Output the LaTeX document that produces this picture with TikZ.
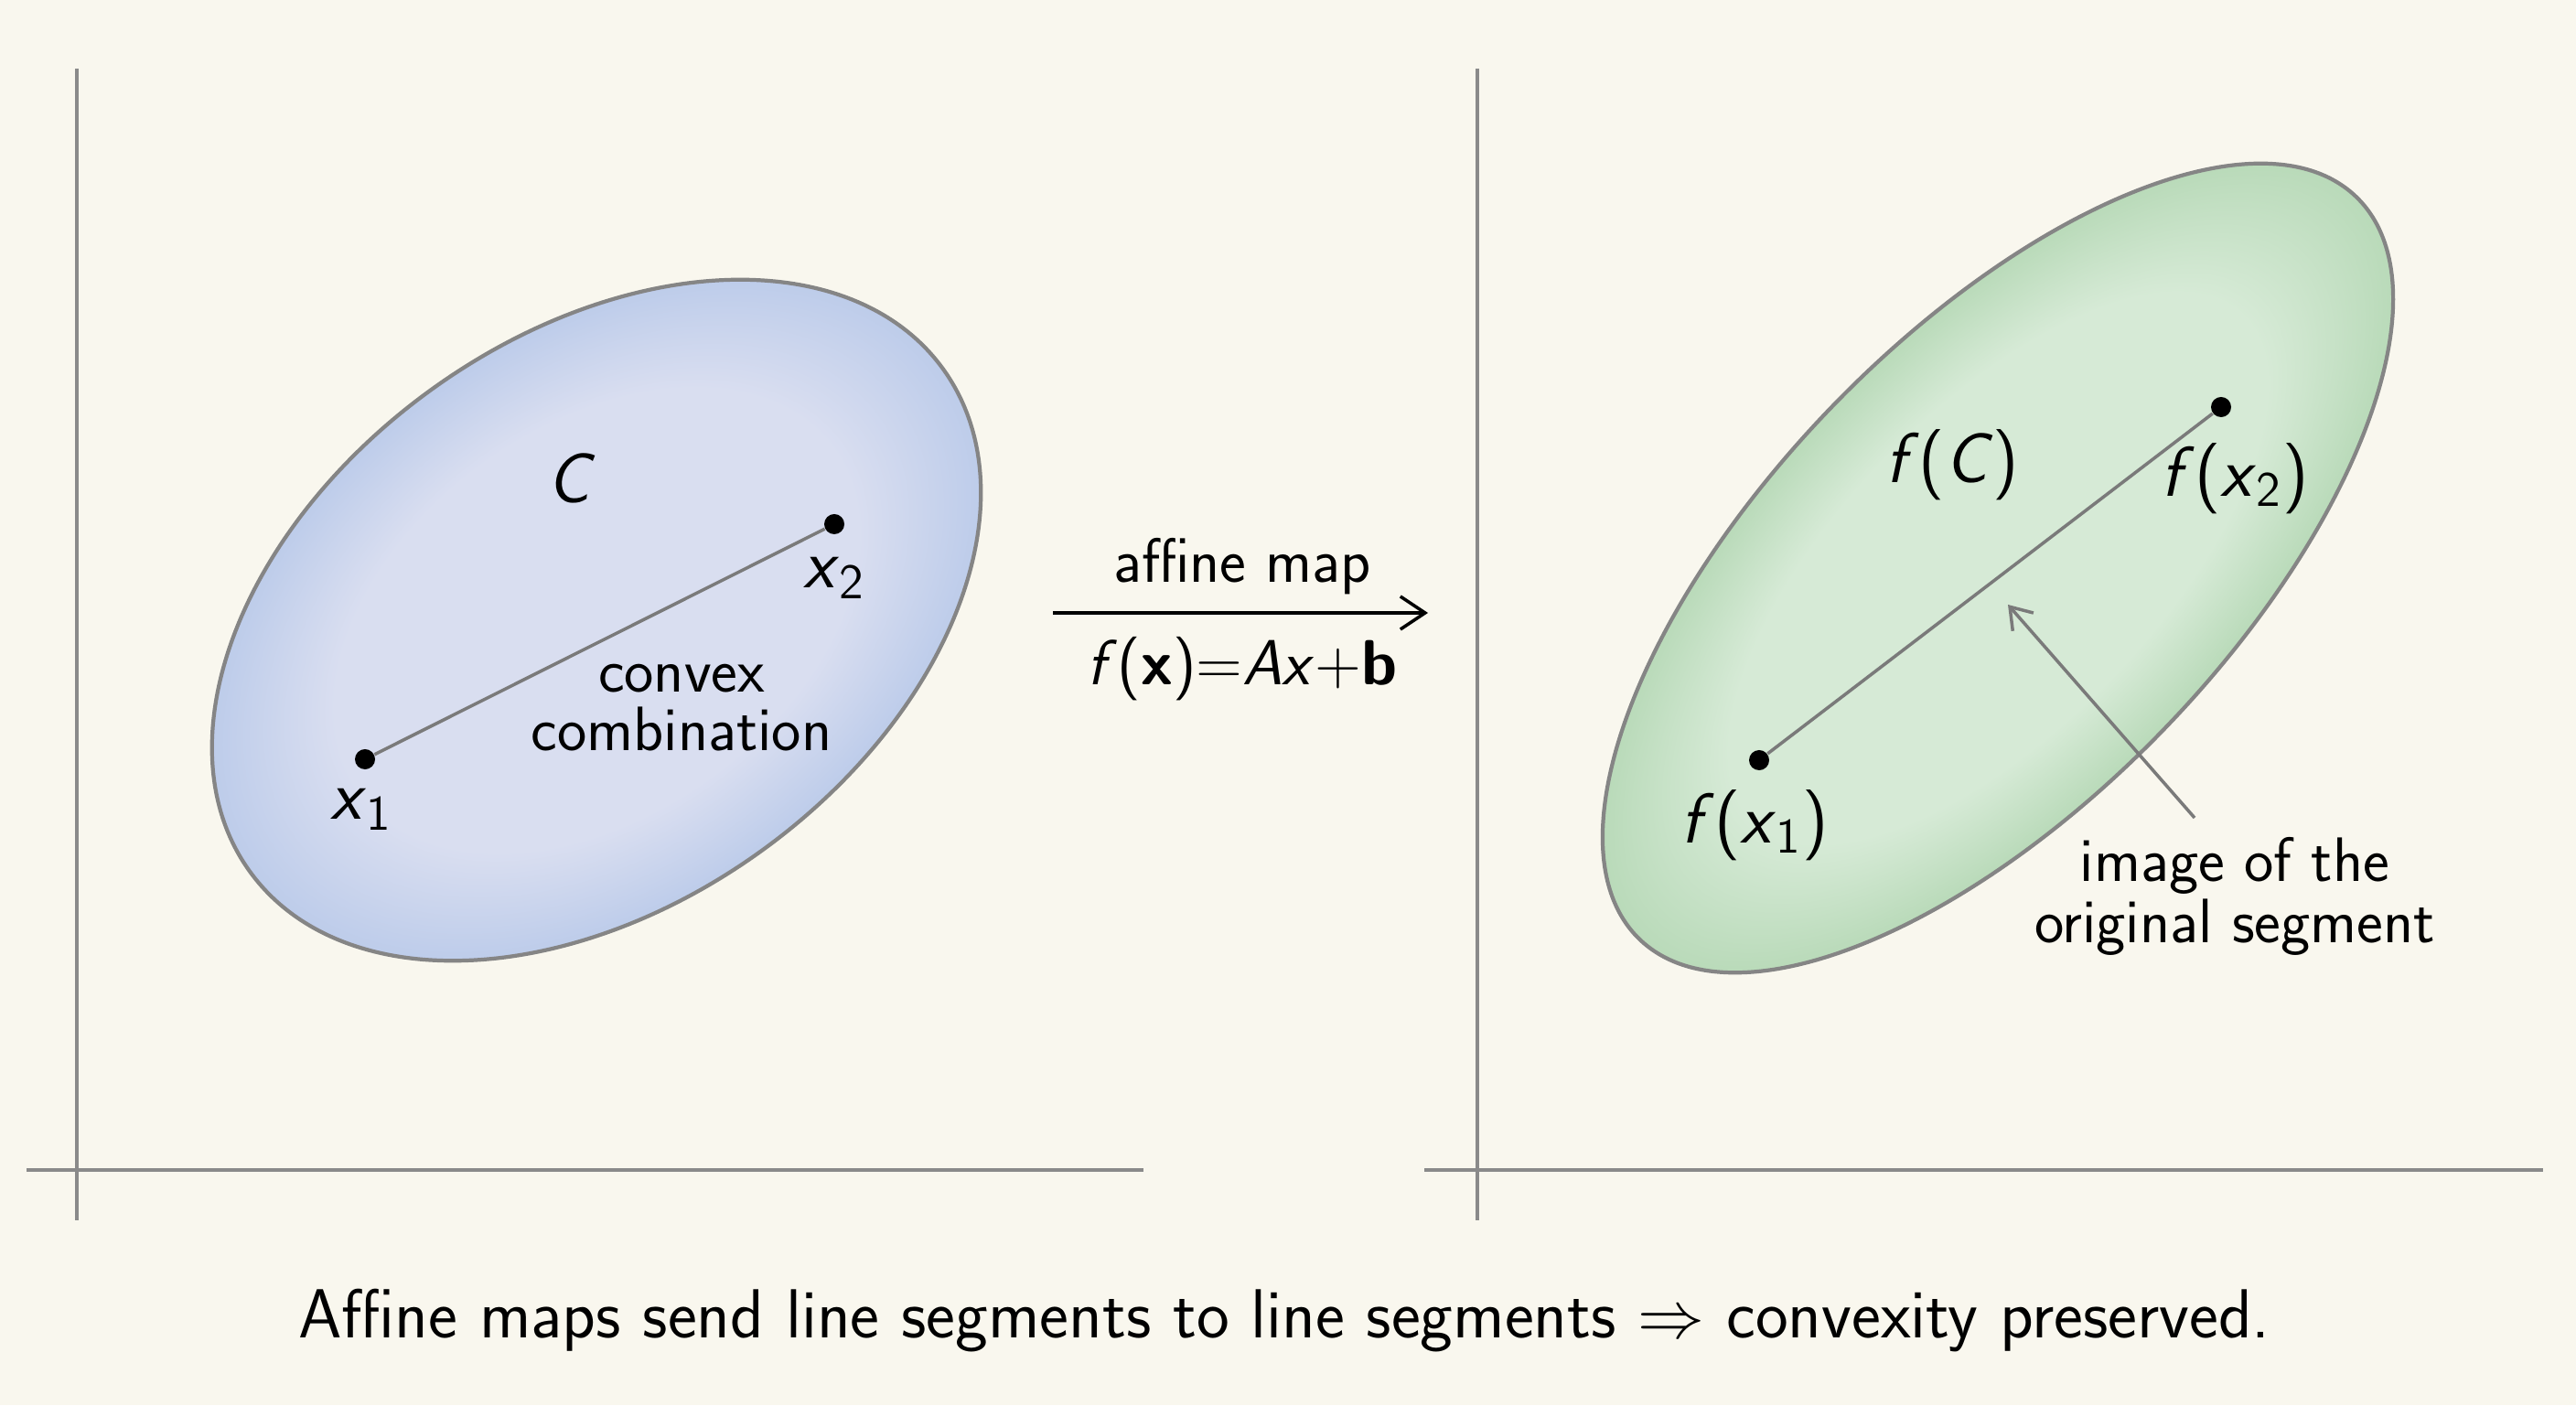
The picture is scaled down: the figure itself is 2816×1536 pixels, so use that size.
\documentclass[tikz,border=0pt]{standalone}
\usetikzlibrary{arrows.meta}
\definecolor{bg}{HTML}{F9F7EE}
\definecolor{axisgray}{HTML}{8A8A8A}
\definecolor{outlinegray}{HTML}{858585}
\definecolor{seggray}{HTML}{7A7A7A}
\definecolor{blueIn}{HTML}{D9DEF0}
\definecolor{blueOut}{HTML}{BDCCEA}
\definecolor{greenIn}{HTML}{D6EAD6}
\definecolor{greenOut}{HTML}{B9DAB9}
\pgfdeclareradialshading{softblue}{\pgfpoint{0bp}{0bp}}{color(0bp)=(blueIn); color(17bp)=(blueIn); color(25bp)=(blueOut); color(50bp)=(blueOut)}
\pgfdeclareradialshading{softgreen}{\pgfpoint{0bp}{0bp}}{color(0bp)=(greenIn); color(17bp)=(greenIn); color(25bp)=(greenOut); color(50bp)=(greenOut)}
\begin{document}
\begin{tikzpicture}[x=0.01cm,y=0.01cm,
  axisline/.style={draw=axisgray,line width=1pt},
  setoutline/.style={draw=outlinegray,line width=1.2pt},
  dot/.style={circle,fill=black,inner sep=0pt,minimum size=0.22cm},
  seg/.style={draw=seggray,line width=1pt},
  mathlbl/.style={font=\sffamily\fontsize{22}{24}\selectfont,inner sep=1pt},
  txtlbl/.style={font=\sffamily\fontsize{19.5}{19}\selectfont,align=center,inner sep=1pt},
  maparrow/.style={draw=black,line width=1pt,-{Straight Barb[length=2.7mm,width=3.6mm,line width=1pt]}},
  pointer/.style={draw=seggray,line width=1pt,-{Straight Barb[length=2.2mm,width=3mm,line width=1pt]}}]
\fill[bg] (0,0) rectangle (2816,1536);
\useasboundingbox (0,0) rectangle (2816,1536);

% axes
\coordinate (LvTop) at (84,1461); \coordinate (LvBot) at (84,202);
\coordinate (LhL) at (29,257); \coordinate (LhR) at (1250,257);
\coordinate (RvTop) at (1615,1461); \coordinate (RvBot) at (1615,202);
\coordinate (RhL) at (1557,257); \coordinate (RhR) at (2780,257);
\draw[axisline] (LvTop) -- (LvBot);
\draw[axisline] (LhL) -- (LhR);
\draw[axisline] (RvTop) -- (RvBot);
\draw[axisline] (RhL) -- (RhR);

% blue set C
\begin{scope}[transform canvas={shift={(652,858)},rotate=36}]
\shade[shading=softblue,setoutline] (0,0) ellipse [x radius=468,y radius=310];
\end{scope}
% green set f(C)
\begin{scope}[transform canvas={shift={(2184,915)},rotate=46}]
\shade[shading=softgreen,setoutline] (0,0) ellipse [x radius=564,y radius=253];
\end{scope}

% left points
\node[dot] (x1) at (399,706) {};
\node[dot] (x2) at (912,963) {};
\draw[seg] (x1) -- (x2);
\node[mathlbl] (lx1) at (395,651) {\textit{x}\textsubscript{1}};
\node[mathlbl] (lx2) at (912,904) {\textit{x}\textsubscript{2}};
\node[mathlbl] (lC) at (625,1013) {\textit{C}};
\node[txtlbl,font=\sffamily\fontsize{19.5}{18.2}\selectfont] (conv) at (745,762) {convex\\combination};

% map arrow
\coordinate (mapL) at (1151,866);
\coordinate (mapR) at (1561,866);
\draw[maparrow] (mapL) -- (mapR);
\node[txtlbl] (affine) at (1358,917) {affine map};
\node[txtlbl,font=\sffamily\fontsize{19.8}{20}\selectfont] (formula) at (1358,805) {\textit{f}(\textbf{x})=\textit{Ax}+\textbf{b}};

% right points
\node[dot] (fx1) at (1923,705) {};
\node[dot] (fx2) at (2428,1091) {};
\draw[seg] (fx1) -- (fx2);
\node[mathlbl] (lfx1) at (1918,634) {\textit{f}(\textit{x}\textsubscript{1})};
\node[mathlbl] (lfx2) at (2443,1013) {\textit{f}(\textit{x}\textsubscript{2})};
\node[mathlbl] (lfC) at (2134,1028) {\textit{f}(\textit{C})};

% annotation
\coordinate (imgtail) at (2399,642);
\coordinate (imghead) at (2195,875);
\draw[pointer] (imgtail) -- (imghead);
\node[txtlbl] (imgtxt) at (2443,556) {image of the\\original segment};

% caption
\node[font=\sffamily\fontsize{21.6}{24}\selectfont] (caption) at (1404,92) {Affine maps send line segments to line segments $\Rightarrow$ convexity preserved.};
\end{tikzpicture}
\end{document}
